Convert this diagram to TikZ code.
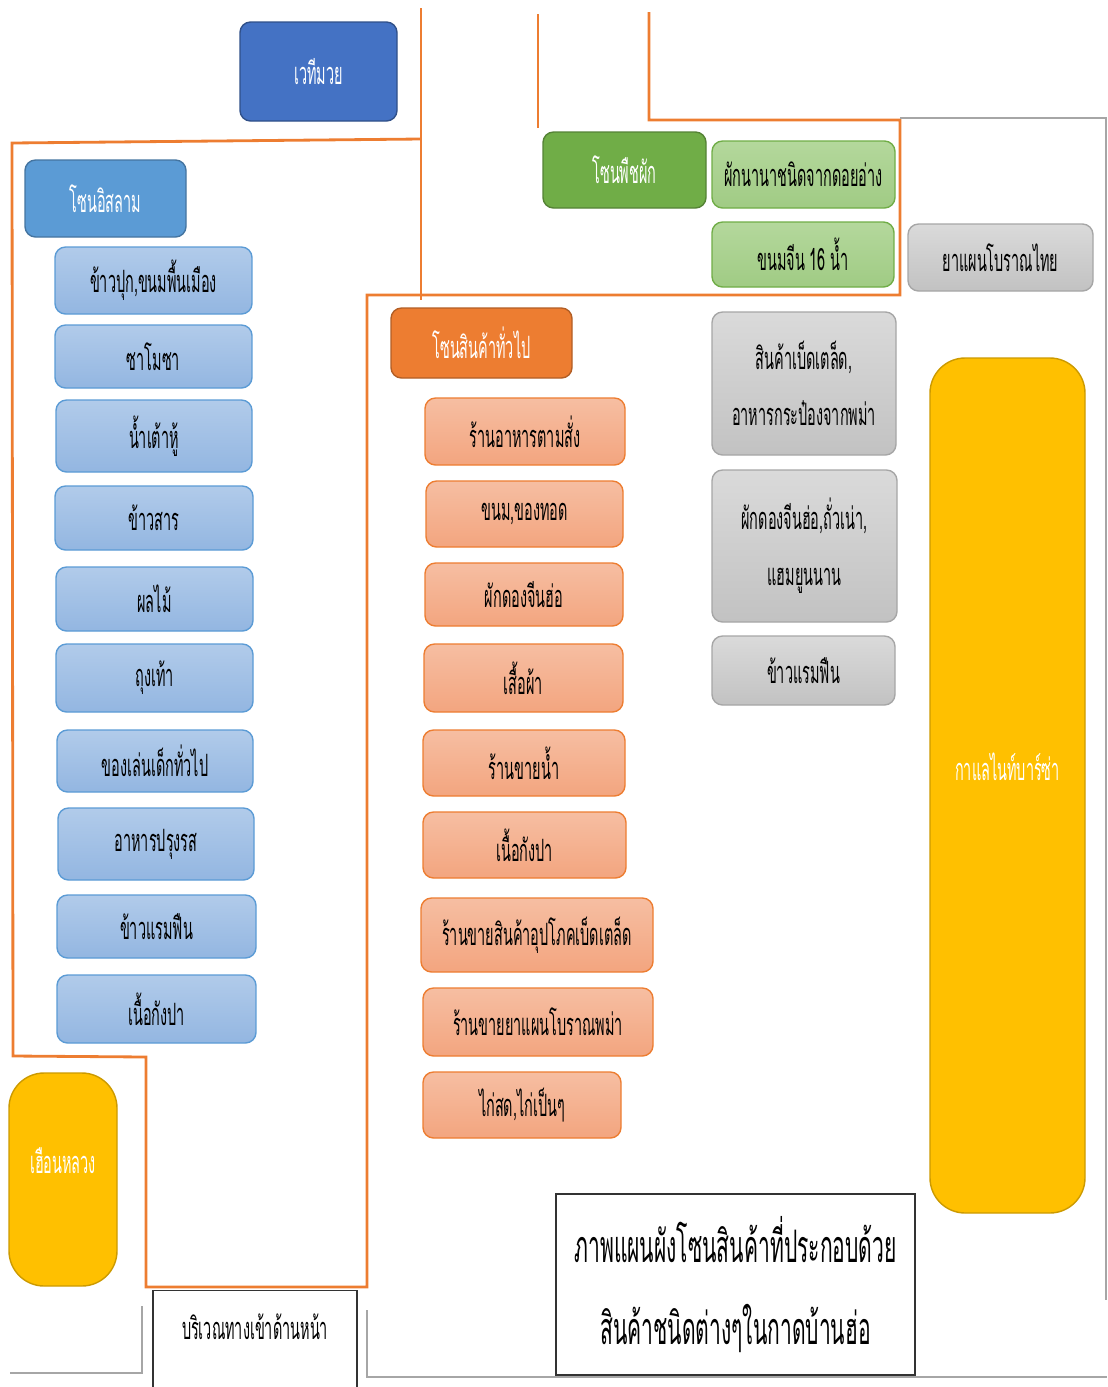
\documentclass[tikz,border=0pt]{standalone}
\usepackage{fontspec}
\setmainfont{Loma}[Script=Thai,FakeStretch=0.47]
\usetikzlibrary{positioning}

\definecolor{zoneorange}{HTML}{ED7D31}
\definecolor{wallgray}{HTML}{A6A6A6}
\definecolor{stageblue}{HTML}{4472C4}
\definecolor{islamblue}{HTML}{5B9BD5}
\definecolor{itemblueA}{HTML}{B1CBEA}
\definecolor{itemblueB}{HTML}{93B6E1}
\definecolor{itemorangeA}{HTML}{F6BEA2}
\definecolor{itemorangeB}{HTML}{F3A57F}
\definecolor{veggreen}{HTML}{70AD47}
\definecolor{itemgreenA}{HTML}{B4D89C}
\definecolor{itemgreenB}{HTML}{A0CB84}
\definecolor{itemgrayA}{HTML}{DADADA}
\definecolor{itemgrayB}{HTML}{C2C2C2}
\definecolor{hallyellow}{HTML}{FFC000}

\tikzset{
  boxsize/.style 2 args={minimum width=#1*0.02cm, minimum height=#2*0.02cm},
  box/.style={rounded corners=6pt, line width=0.8pt, align=center, inner sep=0pt,
    font=\fontsize{17.5}{21}\selectfont},
  headbox/.style={box, text=white},
  stagebox/.style={headbox, fill=stageblue, draw=stageblue!70!black},
  islamhead/.style={headbox, fill=islamblue, draw=islamblue!75!black},
  islamitem/.style={box, top color=itemblueA, bottom color=itemblueB, draw=islamblue},
  generalhead/.style={headbox, fill=zoneorange, draw=zoneorange!75!black},
  generalitem/.style={box, top color=itemorangeA, bottom color=itemorangeB, draw=zoneorange},
  veghead/.style={headbox, fill=veggreen, draw=veggreen!75!black},
  vegitem/.style={box, top color=itemgreenA, bottom color=itemgreenB, draw=veggreen},
  grayitem/.style={box, top color=itemgrayA, bottom color=itemgrayB, draw=wallgray},
  hallbox/.style={headbox, rounded corners=20pt, fill=hallyellow, draw=hallyellow!80!black,
    text depth=0.75cm},
  zoneline/.style={zoneorange, line width=1.6pt},
  wallline/.style={wallgray, line width=1.6pt},
  labelbox/.style={draw=black!80, line width=0.8pt, align=center, inner sep=0pt}
}

\begin{document}
\begin{tikzpicture}[x=0.02cm, y=-0.02cm]
\useasboundingbox (0,0) rectangle (1107,1387);

% zone borders
\draw[zoneline] (421,8) -- (421,300);
\draw[zoneline] (421,139) -- (12,143) -- (13,1056) -- (146,1057) -- (146,1287)
  -- (367,1287) -- (367,295) -- (900,295) -- (900,120) -- (649,120) -- (649,12);
\draw[zoneline] (538,14) -- (538,128);
\draw[wallline] (900,118) -- (1106,118) -- (1106,1300);
\draw[wallline] (367,1310) -- (367,1377) -- (1107,1377);
\draw[wallline] (10,1373) -- (142,1373) -- (142,1306);

% stage
\node[stagebox, boxsize={157}{99}] (stage) at (318.5,71.5) {เวทีมวย};

% islam zone
\node[islamhead, boxsize={161}{77}] (islam) at (105.5,198.5) {โซนอิสลาม};
\node[islamitem, boxsize={197}{67}] (i1) at (153.5,280.5) {ข้าวปุก,ขนมพื้นเมือง};
\node[islamitem, boxsize={197}{63}] (i2) at (153.5,356.5) {ซาโมซา};
\node[islamitem, boxsize={196}{72}] (i3) at (154,436) {น้ำเต้าหู้};
\node[islamitem, boxsize={198}{64}] (i4) at (154,518) {ข้าวสาร};
\node[islamitem, boxsize={197}{64}] (i5) at (154.5,599) {ผลไม้};
\node[islamitem, boxsize={197}{68}] (i6) at (154.5,678) {ถุงเท้า};
\node[islamitem, boxsize={196}{62}] (i7) at (155,761) {ของเล่นเด็กทั่วไป};
\node[islamitem, boxsize={196}{72}] (i8) at (156,844) {อาหารปรุงรส};
\node[islamitem, boxsize={199}{63}] (i9) at (156.5,926.5) {ข้าวแรมฟืน};
\node[islamitem, boxsize={199}{68}] (i10) at (156.5,1009) {เนื้อกังปา};

% general zone
\node[generalhead, boxsize={181}{70}] (general) at (481.5,343) {โซนสินค้าทั่วไป};
\node[generalitem, boxsize={200}{67}] (g1) at (525,431.5) {ร้านอาหารตามสั่ง};
\node[generalitem, boxsize={197}{66}] (g2) at (524.5,514) {ขนม,ของทอด};
\node[generalitem, boxsize={198}{63}] (g3) at (524,594.5) {ผักดองจีนฮ่อ};
\node[generalitem, boxsize={199}{68}] (g4) at (523.5,678) {เสื้อผ้า};
\node[generalitem, boxsize={202}{66}] (g5) at (524,763) {ร้านขายน้ำ};
\node[generalitem, boxsize={203}{66}] (g6) at (524.5,845) {เนื้อกังปา};
\node[generalitem, boxsize={232}{74}] (g7) at (537,935) {ร้านขายสินค้าอุปโภคเบ็ดเตล็ด};
\node[generalitem, boxsize={230}{68}] (g8) at (538,1022) {ร้านขายยาแผนโบราณพม่า};
\node[generalitem, boxsize={198}{66}] (g9) at (522,1105) {ไก่สด,ไก่เป็นๆ};

% vegetable zone
\node[veghead, boxsize={163}{76}] (veg) at (624.5,170) {โซนพืชผัก};
\node[vegitem, boxsize={183}{67}] (v1) at (803.5,174.5) {ผักนานาชนิดจากดอยอ่าง};
\node[vegitem, boxsize={182}{65}] (v2) at (803,254.5) {ขนมจีน 16 น้ำ};

% gray stalls
\node[grayitem, boxsize={185}{67}] (thaimed) at (1000.5,257.5) {ยาแผนโบราณไทย};
\node[grayitem, boxsize={184}{143}] (s1) at (804,383.5) {สินค้าเบ็ดเตล็ด,\\[11pt]อาหารกระป๋องจากพม่า};
\node[grayitem, boxsize={185}{152}] (s2) at (804.5,546) {ผักดองจีนฮ่อ,ถั่วเน่า,\\[11pt]แฮมยูนนาน};
\node[grayitem, boxsize={183}{69}] (s3) at (803.5,670.5) {ข้าวแรมฟืน};

% yellow halls
\node[hallbox, boxsize={108}{213}] (hall) at (63,1179.5) {เฮือนหลวง};
\node[hallbox, boxsize={155}{855}] (bar) at (1007.5,785.5) {กาแลไนท์บาร์ซ่า};

% labels
\node[labelbox, boxsize={359}{181}, font=\fontsize{25.5}{29}\selectfont] (title) at (735.5,1284.5)
  {ภาพแผนผังโซนสินค้าที่ประกอบด้วย\\[18pt]สินค้าชนิดต่างๆในกาดบ้านฮ่อ};
\node[labelbox, anchor=north, minimum width=4.08cm, text depth=2cm, inner ysep=13pt,
  font=\fontsize{17.5}{21}\selectfont] (entry) at (255,1290) {บริเวณทางเข้าด้านหน้า};

\end{tikzpicture}
\end{document}
